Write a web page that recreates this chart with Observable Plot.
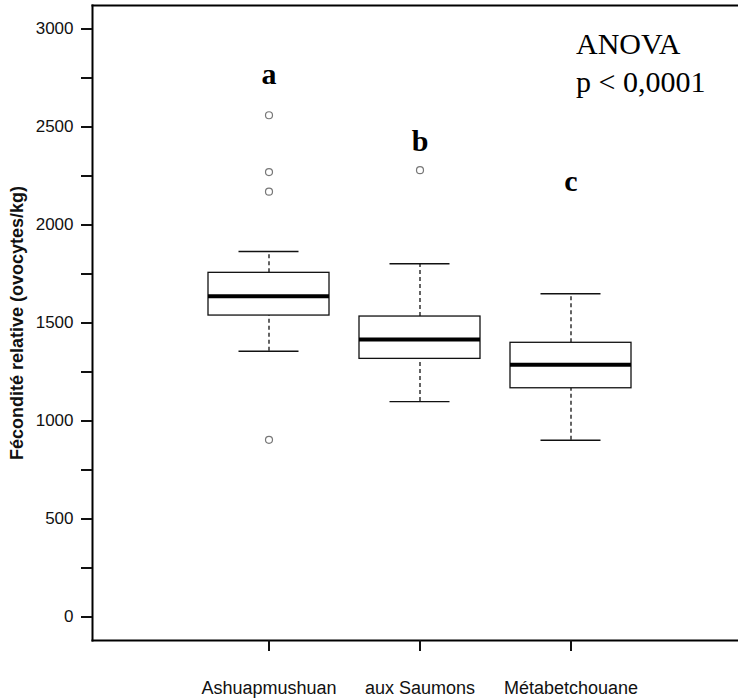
<!DOCTYPE html>
<html>
<head>
<meta charset="utf-8">
<script src="https://cdn.jsdelivr.net/npm/d3@7"></script>
<script src="https://cdn.jsdelivr.net/npm/@observablehq/plot@0.6"></script>
<style>
  html, body { margin: 0; padding: 0; background: #fff; }
  #chart svg { display: block; }
</style>
</head>
<body>
<div id="chart"></div>
<script>
// ---- data ----
const rivers = ["Ashuapmushuan", "aux Saumons", "Métabetchouane"];
const lowerWhisker = [1356, 1099, 902];
const q1 = [1538, 1317, 1167];
const median = [1637, 1416, 1287];
const q3 = [1756, 1533, 1399];
const upperWhisker = [1865, 1802, 1649];

const outlierRiver = ["Ashuapmushuan", "Ashuapmushuan", "Ashuapmushuan", "Ashuapmushuan", "aux Saumons"];
const outlierValue = [2560, 2270, 2170, 904, 2280];

const groupLetters = ["a", "b", "c"];
const letterValue = [2717, 2380, 2172];

const majorTicks = [0, 500, 1000, 1500, 2000, 2500, 3000];
const minorTicks = [250, 750, 1250, 1750, 2250, 2750];

const yTitle = "Fécondité relative (ovocytes/kg)";
const anovaText = "ANOVA\np < 0,0001";

// ---- tables built from the arrays ----
const boxes = rivers.map((r, i) => ({
  river: r, lo: lowerWhisker[i], q1: q1[i], med: median[i], q3: q3[i], hi: upperWhisker[i]
}));
const outliers = outlierRiver.map((r, i) => ({river: r, value: outlierValue[i]}));
const letters = rivers.map((r, i) => ({river: r, letter: groupLetters[i], value: letterValue[i]}));

const capInset = 30.5;

const chart = Plot.plot({
  width: 738,
  height: 698,
  marginLeft: 92,
  marginRight: 0,
  marginTop: 5,
  marginBottom: 58,
  style: {fontFamily: "'Liberation Sans', Arial, sans-serif", color: "#111", background: "#fff"},
  x: {type: "band", domain: rivers, range: [92, 746], paddingInner: 0.2, paddingOuter: 0.758, axis: null},
  y: {domain: [-120, 3120], axis: null},
  marks: [
    // box frame: left, top and bottom sides (right side lies beyond the picture)
    Plot.frame({anchor: "left", stroke: "#000", strokeWidth: 2}),
    Plot.frame({anchor: "top", stroke: "#000", strokeWidth: 2}),
    Plot.frame({anchor: "bottom", stroke: "#000", strokeWidth: 2}),
    // y axis
    Plot.axisY({ticks: majorTicks, tickSize: 11, tickPadding: 8, fontSize: 17, strokeWidth: 2, tickFormat: d => String(d), label: null}),
    Plot.axisY({ticks: minorTicks, tickSize: 11, tickFormat: () => "", strokeWidth: 2, label: null}),
    // x axis
    Plot.axisX({tickSize: 11, tickPadding: 30, fontSize: 18, strokeWidth: 2, label: null}),
    // whiskers (dashed)
    Plot.ruleX(boxes, {x: "river", y1: "q3", y2: "hi", stroke: "#111", strokeWidth: 1.3, strokeDasharray: "4,3"}),
    Plot.ruleX(boxes, {x: "river", y1: "lo", y2: "q1", stroke: "#111", strokeWidth: 1.3, strokeDasharray: "4,3"}),
    // whisker caps
    Plot.tickY(boxes, {x: "river", y: "hi", insetLeft: capInset, insetRight: capInset, stroke: "#111", strokeWidth: 1.4}),
    Plot.tickY(boxes, {x: "river", y: "lo", insetLeft: capInset, insetRight: capInset, stroke: "#111", strokeWidth: 1.4}),
    // boxes
    Plot.barY(boxes, {x: "river", y1: "q1", y2: "q3", fill: "#fff", stroke: "#111", strokeWidth: 1.3}),
    // medians
    Plot.tickY(boxes, {x: "river", y: "med", stroke: "#000", strokeWidth: 4}),
    // outliers
    Plot.dot(outliers, {x: "river", y: "value", r: 3.5, stroke: "#777", strokeWidth: 1.2, fill: "#fff"}),
    // group letters
    Plot.text(letters, {x: "river", y: "value", text: "letter", lineAnchor: "bottom",
      fontFamily: "'Liberation Serif', 'Times New Roman', serif", fontWeight: "bold", fontSize: 30, fill: "#000"}),
    // ANOVA annotation
    Plot.text([anovaText], {x: () => rivers[2], y: () => 2677, dx: 5, textAnchor: "start", lineAnchor: "bottom", lineHeight: 1.27,
      fontFamily: "'Liberation Serif', 'Times New Roman', serif", fontSize: 30, fill: "#000"}),
    // y title
    Plot.text([yTitle], {frameAnchor: "left", dx: -75, rotate: -90, textAnchor: "middle", lineAnchor: "middle",
      fontFamily: "'Liberation Sans', Arial, sans-serif", fontWeight: "bold", fontSize: 18, fill: "#111"})
  ]
});
document.getElementById("chart").appendChild(chart);
</script>
</body>
</html>
